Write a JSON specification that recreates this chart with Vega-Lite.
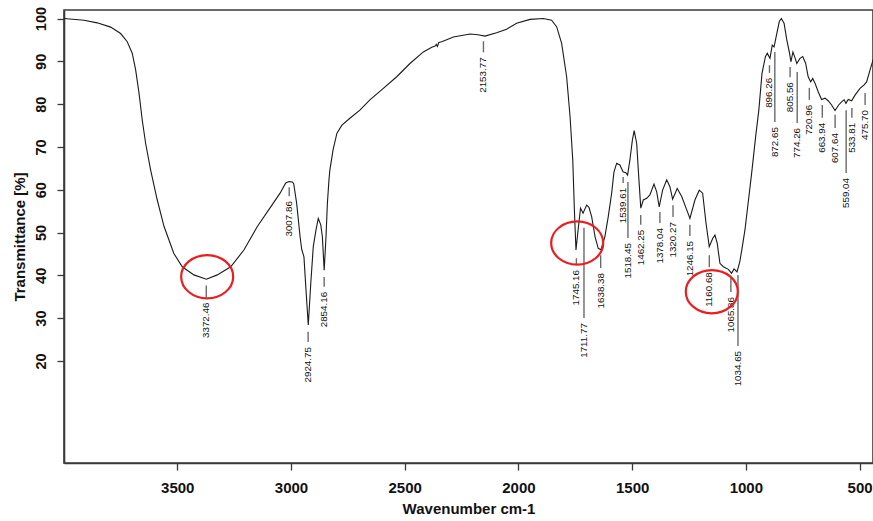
{
  "$schema": "https://vega.github.io/schema/vega-lite/v6.json",
  "width": 809,
  "height": 453,
  "autosize": {"type": "none"},
  "padding": {"left": 64, "top": 10, "right": 0, "bottom": 58},
  "background": "white",
  "config": {
    "view": {"stroke": "#3a3a3a", "strokeWidth": 1.6},
    "axis": {
      "domainColor": "#3a3a3a", "domainWidth": 1.6,
      "tickColor": "#3a3a3a", "tickWidth": 1.3, "tickSize": 7,
      "grid": false,
      "labelFont": "Liberation Sans", "labelFontWeight": "bold", "labelColor": "#111",
      "titleFont": "Liberation Sans", "titleFontWeight": "bold", "titleColor": "#111", "titleFontSize": 15
    }
  },
  "datasets": {
    "spectrum": [
      {"wn": 3998, "T": 100.0}, {"wn": 3910, "T": 99.6}, {"wn": 3852, "T": 99.0}, {"wn": 3793, "T": 98.0},
      {"wn": 3749, "T": 96.5}, {"wn": 3720, "T": 94.6}, {"wn": 3698, "T": 91.9}, {"wn": 3683, "T": 88.0},
      {"wn": 3668, "T": 82.5}, {"wn": 3654, "T": 76.3}, {"wn": 3639, "T": 70.8}, {"wn": 3617, "T": 64.6},
      {"wn": 3588, "T": 57.6}, {"wn": 3558, "T": 51.4}, {"wn": 3515, "T": 45.1}, {"wn": 3478, "T": 42.0},
      {"wn": 3427, "T": 40.1}, {"wn": 3372, "T": 39.1}, {"wn": 3324, "T": 40.1}, {"wn": 3265, "T": 42.0},
      {"wn": 3207, "T": 45.9}, {"wn": 3148, "T": 51.4}, {"wn": 3089, "T": 56.0}, {"wn": 3048, "T": 59.2},
      {"wn": 3023, "T": 61.6}, {"wn": 3009, "T": 61.9}, {"wn": 2994, "T": 61.8}, {"wn": 2988, "T": 61.4},
      {"wn": 2975, "T": 56.8}, {"wn": 2960, "T": 49.0}, {"wn": 2953, "T": 46.1}, {"wn": 2943, "T": 44.3},
      {"wn": 2934, "T": 36.6}, {"wn": 2924, "T": 28.4}, {"wn": 2913, "T": 38.1}, {"wn": 2902, "T": 46.7},
      {"wn": 2890, "T": 50.6}, {"wn": 2880, "T": 53.3}, {"wn": 2869, "T": 51.8}, {"wn": 2862, "T": 49.0},
      {"wn": 2854, "T": 41.2}, {"wn": 2846, "T": 49.0}, {"wn": 2840, "T": 56.8}, {"wn": 2833, "T": 62.3},
      {"wn": 2829, "T": 64.6}, {"wn": 2815, "T": 69.3}, {"wn": 2798, "T": 73.2}, {"wn": 2776, "T": 75.1},
      {"wn": 2741, "T": 76.7}, {"wn": 2697, "T": 78.6}, {"wn": 2653, "T": 81.0}, {"wn": 2594, "T": 83.7},
      {"wn": 2535, "T": 86.4}, {"wn": 2477, "T": 89.5}, {"wn": 2418, "T": 92.2}, {"wn": 2381, "T": 93.3},
      {"wn": 2366, "T": 93.6}, {"wn": 2361, "T": 94.0}, {"wn": 2356, "T": 93.5}, {"wn": 2350, "T": 94.4},
      {"wn": 2337, "T": 94.6}, {"wn": 2286, "T": 95.7}, {"wn": 2213, "T": 96.4}, {"wn": 2178, "T": 96.2},
      {"wn": 2147, "T": 95.9}, {"wn": 2096, "T": 96.7}, {"wn": 2052, "T": 97.5}, {"wn": 2008, "T": 98.9},
      {"wn": 1949, "T": 99.8}, {"wn": 1891, "T": 100.0}, {"wn": 1854, "T": 99.6}, {"wn": 1832, "T": 98.1},
      {"wn": 1810, "T": 94.2}, {"wn": 1788, "T": 86.4}, {"wn": 1773, "T": 77.1}, {"wn": 1761, "T": 66.9},
      {"wn": 1754, "T": 55.3}, {"wn": 1747, "T": 45.9}, {"wn": 1736, "T": 51.4}, {"wn": 1727, "T": 55.7},
      {"wn": 1716, "T": 54.5}, {"wn": 1700, "T": 56.4}, {"wn": 1690, "T": 55.9}, {"wn": 1678, "T": 53.7},
      {"wn": 1663, "T": 49.0}, {"wn": 1649, "T": 46.3}, {"wn": 1637, "T": 46.0}, {"wn": 1620, "T": 49.0},
      {"wn": 1605, "T": 53.7}, {"wn": 1590, "T": 59.2}, {"wn": 1580, "T": 64.1}, {"wn": 1568, "T": 66.2},
      {"wn": 1554, "T": 65.8}, {"wn": 1540, "T": 64.2}, {"wn": 1528, "T": 64.0}, {"wn": 1520, "T": 63.4},
      {"wn": 1510, "T": 66.9}, {"wn": 1499, "T": 71.6}, {"wn": 1491, "T": 73.8}, {"wn": 1480, "T": 70.8},
      {"wn": 1471, "T": 63.0}, {"wn": 1462, "T": 55.7}, {"wn": 1451, "T": 57.6}, {"wn": 1436, "T": 58.0},
      {"wn": 1422, "T": 58.8}, {"wn": 1404, "T": 61.3}, {"wn": 1392, "T": 59.5}, {"wn": 1381, "T": 56.0},
      {"wn": 1366, "T": 59.9}, {"wn": 1348, "T": 62.3}, {"wn": 1334, "T": 60.7}, {"wn": 1322, "T": 57.8},
      {"wn": 1302, "T": 60.3}, {"wn": 1282, "T": 58.4}, {"wn": 1260, "T": 55.3}, {"wn": 1246, "T": 53.3},
      {"wn": 1224, "T": 57.6}, {"wn": 1205, "T": 59.9}, {"wn": 1190, "T": 59.2}, {"wn": 1175, "T": 52.1},
      {"wn": 1161, "T": 46.7}, {"wn": 1146, "T": 48.6}, {"wn": 1136, "T": 49.4}, {"wn": 1126, "T": 47.5},
      {"wn": 1114, "T": 42.8}, {"wn": 1099, "T": 42.0}, {"wn": 1077, "T": 41.4}, {"wn": 1063, "T": 40.5},
      {"wn": 1052, "T": 41.5}, {"wn": 1039, "T": 40.8}, {"wn": 1027, "T": 43.1}, {"wn": 1018, "T": 45.9},
      {"wn": 1004, "T": 50.6}, {"wn": 974, "T": 64.1}, {"wn": 957, "T": 72.4}, {"wn": 943, "T": 78.6},
      {"wn": 929, "T": 87.2}, {"wn": 914, "T": 91.1}, {"wn": 906, "T": 91.9}, {"wn": 894, "T": 90.7},
      {"wn": 884, "T": 93.8}, {"wn": 876, "T": 93.4}, {"wn": 864, "T": 96.5}, {"wn": 853, "T": 99.3},
      {"wn": 844, "T": 100.0}, {"wn": 832, "T": 98.9}, {"wn": 820, "T": 95.0}, {"wn": 808, "T": 91.9},
      {"wn": 802, "T": 89.9}, {"wn": 793, "T": 92.2}, {"wn": 783, "T": 90.7}, {"wn": 776, "T": 89.5},
      {"wn": 762, "T": 90.7}, {"wn": 750, "T": 91.1}, {"wn": 737, "T": 89.5}, {"wn": 726, "T": 86.4},
      {"wn": 715, "T": 85.2}, {"wn": 706, "T": 86.0}, {"wn": 696, "T": 84.9}, {"wn": 682, "T": 82.9},
      {"wn": 667, "T": 81.1}, {"wn": 652, "T": 81.4}, {"wn": 638, "T": 80.8}, {"wn": 623, "T": 79.8},
      {"wn": 608, "T": 78.5}, {"wn": 592, "T": 79.8}, {"wn": 578, "T": 80.6}, {"wn": 568, "T": 81.0},
      {"wn": 560, "T": 80.2}, {"wn": 550, "T": 81.1}, {"wn": 535, "T": 80.8}, {"wn": 520, "T": 82.1},
      {"wn": 498, "T": 83.7}, {"wn": 480, "T": 84.5}, {"wn": 469, "T": 85.2}, {"wn": 454, "T": 88.0},
      {"wn": 441, "T": 90.3}, {"wn": 428, "T": 92.2}
    ],
    "peaks": [
      {"wn": 3372.46, "tTop": 37.6, "tBot": 34.8},
      {"wn": 3007.86, "tTop": 60.6, "tBot": 58.5},
      {"wn": 2924.75, "tTop": 26.8, "tBot": 24.4},
      {"wn": 2854.16, "tTop": 39.6, "tBot": 37.3},
      {"wn": 2153.77, "tTop": 94.7, "tBot": 92.1},
      {"wn": 1745.16, "tTop": 44.0, "tBot": 42.4},
      {"wn": 1711.77, "tTop": 51.1, "tBot": 30.0},
      {"wn": 1638.38, "tTop": 44.7, "tBot": 41.7},
      {"wn": 1539.61, "tTop": 63.0, "tBot": 61.6},
      {"wn": 1518.45, "tTop": 61.8, "tBot": 48.7},
      {"wn": 1462.25, "tTop": 54.1, "tBot": 51.8},
      {"wn": 1378.04, "tTop": 54.8, "tBot": 52.2},
      {"wn": 1320.27, "tTop": 56.4, "tBot": 53.6},
      {"wn": 1246.15, "tTop": 51.8, "tBot": 49.2},
      {"wn": 1160.68, "tTop": 44.7, "tBot": 41.9},
      {"wn": 1065.86, "tTop": 39.4, "tBot": 36.1},
      {"wn": 1034.65, "tTop": 40.1, "tBot": 23.5},
      {"wn": 896.26, "tTop": 89.1, "tBot": 87.3},
      {"wn": 872.65, "tTop": 92.2, "tBot": 75.8},
      {"wn": 805.56, "tTop": 88.7, "tBot": 86.3},
      {"wn": 774.26, "tTop": 87.5, "tBot": 75.6},
      {"wn": 720.96, "tTop": 83.8, "tBot": 81.0},
      {"wn": 663.94, "tTop": 79.8, "tBot": 76.8},
      {"wn": 607.64, "tTop": 77.5, "tBot": 74.4},
      {"wn": 559.04, "tTop": 78.6, "tBot": 63.9},
      {"wn": 533.81, "tTop": 79.1, "tBot": 76.8},
      {"wn": 475.70, "tTop": 82.6, "tBot": 79.8}
    ],
    "circles": [
      {"wn": 3368.5, "T": 39.67},
      {"wn": 1741.6, "T": 47.55},
      {"wn": 1149.8, "T": 36.17}
    ]
  },
  "layer": [
    {
      "data": {"name": "spectrum"},
      "mark": {"type": "line", "color": "#1a1a1a", "strokeWidth": 1.1, "clip": true},
      "encoding": {
        "x": {
          "field": "wn", "type": "quantitative",
          "scale": {"domain": [441, 3998], "reverse": true, "nice": false, "zero": false},
          "axis": {
            "values": [3500, 3000, 2500, 2000, 1500, 1000, 500], "format": "d",
            "title": "Wavenumber cm-1", "labelFontSize": 15, "labelPadding": 10, "titlePadding": 6
          }
        },
        "y": {
          "field": "T", "type": "quantitative",
          "scale": {"domain": [-3.86, 102], "nice": false, "zero": false},
          "axis": {
            "values": [20, 30, 40, 50, 60, 70, 80, 90, 100],
            "title": "Transmittance [%]", "labelAngle": -90, "labelAlign": "center",
            "labelBaseline": "alphabetic", "labelFontSize": 14.5, "labelPadding": 12, "titlePadding": 6
          }
        }
      }
    },
    {
      "data": {"name": "peaks"},
      "mark": {"type": "rule", "color": "#6a6a6a", "strokeWidth": 1.4},
      "encoding": {
        "x": {"field": "wn", "type": "quantitative"},
        "y": {"field": "tTop", "type": "quantitative"},
        "y2": {"field": "tBot"}
      }
    },
    {
      "data": {"name": "peaks"},
      "mark": {"type": "text", "angle": 270, "align": "right", "baseline": "middle", "dx": -5,
               "font": "Liberation Sans, Arial, sans-serif", "fontSize": 9.8, "color": "#111"},
      "encoding": {
        "x": {"field": "wn", "type": "quantitative"},
        "y": {"field": "tBot", "type": "quantitative"},
        "text": {"field": "wn", "type": "quantitative", "format": ".2f"}
      }
    },
    {
      "data": {"name": "circles"},
      "mark": {"type": "point", "shape": "M -1 0 A 1 0.83 0 1 0 1 0 A 1 0.83 0 1 0 -1 0 Z",
               "size": 2704, "filled": false, "stroke": "#ee1c1c", "strokeWidth": 2.2, "opacity": 1},
      "encoding": {
        "x": {"field": "wn", "type": "quantitative"},
        "y": {"field": "T", "type": "quantitative"}
      }
    }
  ]
}
